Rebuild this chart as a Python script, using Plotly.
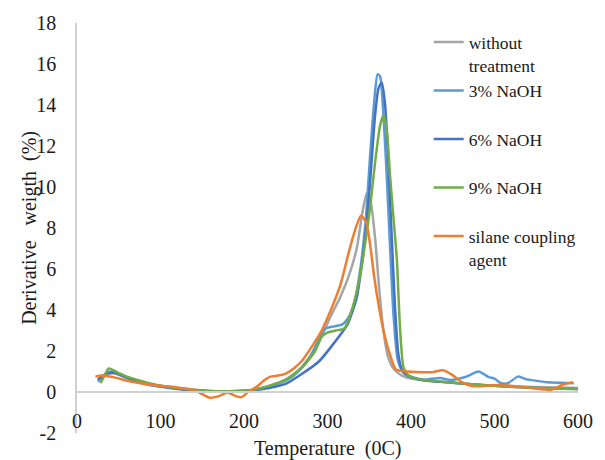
import plotly.graph_objects as go

# ---- data ----
names = ["without<br>treatment", "3% NaOH<br> ", "6% NaOH<br> ", "9% NaOH<br> ", "silane coupling<br>agent"]
colors = ["#A5A5A5", "#5B9BD5", "#4472C4", "#70AD47", "#ED7D31"]

temp_untreated = [25, 35, 45, 60, 80, 100, 130, 160, 190, 210, 230, 250, 270, 285, 295, 305, 315, 325, 335, 342, 347, 352, 357, 362, 367, 372, 378, 385, 395, 410, 450, 500, 550, 600]
dtg_untreated = [0.6, 0.85, 0.9, 0.7, 0.45, 0.3, 0.15, 0.05, 0.05, 0.1, 0.3, 0.6, 1.2, 2.0, 2.9, 3.8, 4.6, 5.6, 7.0, 8.8, 9.7, 9.2, 7.5, 5.0, 3.0, 1.8, 1.2, 0.9, 0.7, 0.6, 0.45, 0.3, 0.25, 0.2]

temp_naoh3 = [25, 32, 40, 50, 65, 80, 100, 130, 160, 190, 210, 230, 250, 265, 280, 290, 298, 308, 318, 326, 333, 340, 346, 351, 356, 360, 363, 367, 371, 375, 379, 384, 390, 400, 415, 435, 447, 465, 481, 493, 500, 508, 516, 528, 536, 545, 563, 580, 595]
dtg_naoh3 = [0.5, 0.8, 1.0, 0.85, 0.6, 0.4, 0.25, 0.1, 0.02, 0.02, 0.08, 0.25, 0.55, 1.0, 1.8, 2.6, 3.1, 3.2, 3.3, 3.7, 4.5, 6.2, 8.5, 11.5, 14.2, 15.5, 15.4, 13.5, 10.5, 7.0, 3.8, 1.6, 1.0, 0.75, 0.6, 0.68, 0.58, 0.73, 1.0, 0.73, 0.65, 0.43, 0.43, 0.75, 0.65, 0.58, 0.48, 0.45, 0.43]

temp_naoh6 = [25, 35, 45, 60, 80, 100, 130, 160, 190, 210, 230, 250, 270, 290, 308, 324, 335, 341, 347, 352, 357, 361, 365, 369, 373, 377, 381, 385, 390, 400, 420, 450, 500, 550, 600]
dtg_naoh6 = [0.6, 0.9, 0.95, 0.7, 0.45, 0.28, 0.12, 0.04, 0.04, 0.08, 0.2, 0.4, 0.9, 1.5, 2.4, 3.3, 4.6, 6.2, 8.2, 10.8, 13.5, 14.8, 15.1, 14.0, 11.0, 7.5, 4.0, 1.8, 1.0, 0.72, 0.55, 0.45, 0.3, 0.2, 0.15]

temp_naoh9 = [28, 33, 38, 49, 60, 80, 100, 130, 160, 190, 210, 230, 250, 269, 285, 293, 300, 310, 320, 330, 340, 347, 351, 357, 363, 367, 371, 375, 379, 383, 387, 391, 396, 405, 450, 500, 550, 600]
dtg_naoh9 = [0.43, 0.8, 1.15, 0.95, 0.75, 0.5, 0.3, 0.15, 0.05, 0.05, 0.1, 0.3, 0.6, 1.2, 2.0, 2.7, 2.9, 3.0, 3.1, 4.1, 5.9, 7.8, 9.0, 11.2, 13.0, 13.5, 12.8, 10.5, 8.5, 6.5, 3.0, 1.2, 0.85, 0.65, 0.45, 0.3, 0.2, 0.15]

temp_silane = [22, 30, 46, 60, 80, 100, 120, 140, 150, 159, 170, 180, 190, 197, 205, 215, 225, 232, 241, 250, 261, 269, 281, 293, 304, 316, 326, 333, 340, 346, 351, 356, 361, 367, 375, 382, 395, 406, 426, 438, 449, 461, 473, 490, 505, 525, 544, 567, 581, 594]
dtg_silane = [0.75, 0.8, 0.7, 0.55, 0.4, 0.3, 0.22, 0.1, -0.1, -0.28, -0.2, -0.02, -0.2, -0.25, 0.0, 0.25, 0.6, 0.75, 0.8, 0.9, 1.2, 1.5, 2.2, 3.0, 4.0, 5.3, 6.9, 7.9, 8.6, 8.3, 7.2, 5.6, 4.3, 3.0, 1.8, 1.1, 1.0, 0.97, 0.97, 1.06, 0.85, 0.48, 0.29, 0.3, 0.34, 0.28, 0.2, 0.1, 0.34, 0.48]

x_ticks = [0, 100, 200, 300, 400, 500, 600]
y_ticks = [-2, 0, 2, 4, 6, 8, 10, 12, 14, 16, 18]

series_x = [temp_untreated, temp_naoh3, temp_naoh6, temp_naoh9, temp_silane]
series_y = [dtg_untreated, dtg_naoh3, dtg_naoh6, dtg_naoh9, dtg_silane]

FONT = "Liberation Serif"
TXT = "#1a1a1a"

fig = go.Figure()
for n, c, xs, ys in zip(names, colors, series_x, series_y):
    fig.add_trace(go.Scatter(x=xs, y=ys, name=n, mode="lines",
                             line=dict(color=c, width=2.5, shape="spline", smoothing=0.6)))

fig.update_layout(
    width=605, height=460,
    margin=dict(l=77, r=18, t=23, b=27),
    paper_bgcolor="white", plot_bgcolor="white",
    font=dict(family=FONT, size=18, color=TXT),
    showlegend=True,
    legend=dict(x=0.702, y=0.997, xanchor="left", yanchor="top",
                bgcolor="rgba(0,0,0,0)", borderwidth=0,
                font=dict(family=FONT, size=17.5, color=TXT),
                valign="top", tracegroupgap=0),
    xaxis=dict(range=[0, 600], tickvals=x_ticks, ticktext=[str(v) for v in x_ticks],
               anchor="free", position=0.1,
               showline=True, linecolor="#D0D0D0", linewidth=1.5,
               showgrid=False, zeroline=False,
               ticks="outside", ticklen=11, tickcolor="rgba(0,0,0,0)",
               tickfont=dict(family=FONT, size=20, color=TXT)),
    yaxis=dict(range=[-2, 18], tickvals=y_ticks, ticktext=[str(v) for v in y_ticks],
               showline=True, linecolor="#D0D0D0", linewidth=1.5,
               showgrid=False, zeroline=False,
               ticks="outside", ticklen=15, tickcolor="rgba(0,0,0,0)",
               tickfont=dict(family=FONT, size=20, color=TXT)),
)

fig.add_annotation(text="Temperature\u00a0\u00a0(0C)", xref="paper", yref="paper",
                   x=0.5, y=-(448 - 433) / 410, xanchor="center", yanchor="middle",
                   showarrow=False, font=dict(family=FONT, size=20, color=TXT))
fig.add_annotation(text="Derivative\u00a0\u00a0\u00a0weigth\u00a0\u00a0(%)", xref="paper", yref="paper",
                   x=(28 - 77) / 510, y=(433 - 228) / 410, xanchor="center", yanchor="middle",
                   textangle=-90, showarrow=False,
                   font=dict(family=FONT, size=20, color=TXT))

fig.write_html("out.html")
